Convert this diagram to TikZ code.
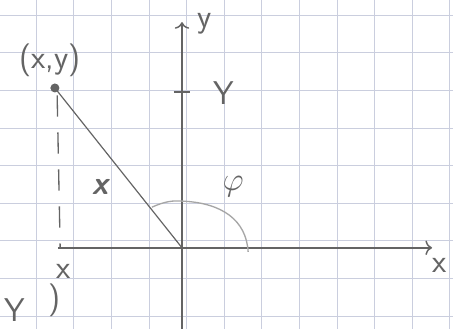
\documentclass[tikz,border=0pt]{standalone}
\usepackage{tikz}
\usetikzlibrary{calc,arrows.meta}
\definecolor{gridblue}{RGB}{202,206,222}
\definecolor{pencil}{RGB}{100,100,100}

\begin{document}
\begin{tikzpicture}[scale=1,font=\sffamily\Huge,every node/.style={text=pencil}]
\useasboundingbox (0,0) rectangle (12.048,8.75);
\fill[white] (0,0) rectangle (12.048,8.75);
\foreach \i in {0,...,11}{\draw[gridblue,thin] (0.957+\i,0)--(0.957+\i,8.75);}
\foreach \j in {0,...,8}{\draw[gridblue,thin] (0,0.35+\j)--(12.048,0.35+\j);}
\coordinate (O) at (4.84,2.16); \coordinate (P) at (1.46,6.41); \coordinate (F) at (1.60,2.16);
\coordinate (XL) at (1.54,2.16); \coordinate (XR) at (11.49,2.16); \coordinate (YB) at (4.84,0); \coordinate (YT) at (4.84,8.16);
\coordinate (T) at (4.84,6.30);
\draw[pencil,line width=1.1pt,-{To[length=5pt,width=11pt]}] (XL)--(XR);
\draw[pencil,line width=1.1pt,-{To[length=5pt,width=11pt]}] (YB)--(YT);
\draw[pencil,line width=2pt] ($(T)+(-0.22,0)$)--($(T)+(0.2,0)$);
\draw[pencil,line width=0.9pt] (P)--(O);
\draw[pencil,line width=1pt,dash pattern=on 16pt off 12pt] ($(P)+(0.06,-0.2)$)--(F);
\fill[pencil] (P) circle (0.12);
\draw[black!35,line width=1pt] (4.04,3.24) .. controls (4.4,3.40) and (4.6,3.42) .. (4.87,3.40) .. controls (5.9,3.35) and (6.55,2.9) .. (6.6,2.05);
\foreach \n/\p/\t in {ylab/{5.45,8.12}/y, xlab/{11.70,1.68}/x, ytick/{5.95,6.28}/Y, pt/{1.33,7.15}/{(x,y)}, rlab/{2.66,3.78}/{\bfseries\itshape x}, phi/{6.20,3.78}/$\varphi$, xfoot/{1.68,1.52}/x, ylow/{0.40,0.5}/Y, par/{1.46,0.77}/)}{\node (\n) at (\p) {\t};}
\end{tikzpicture}
\end{document}
